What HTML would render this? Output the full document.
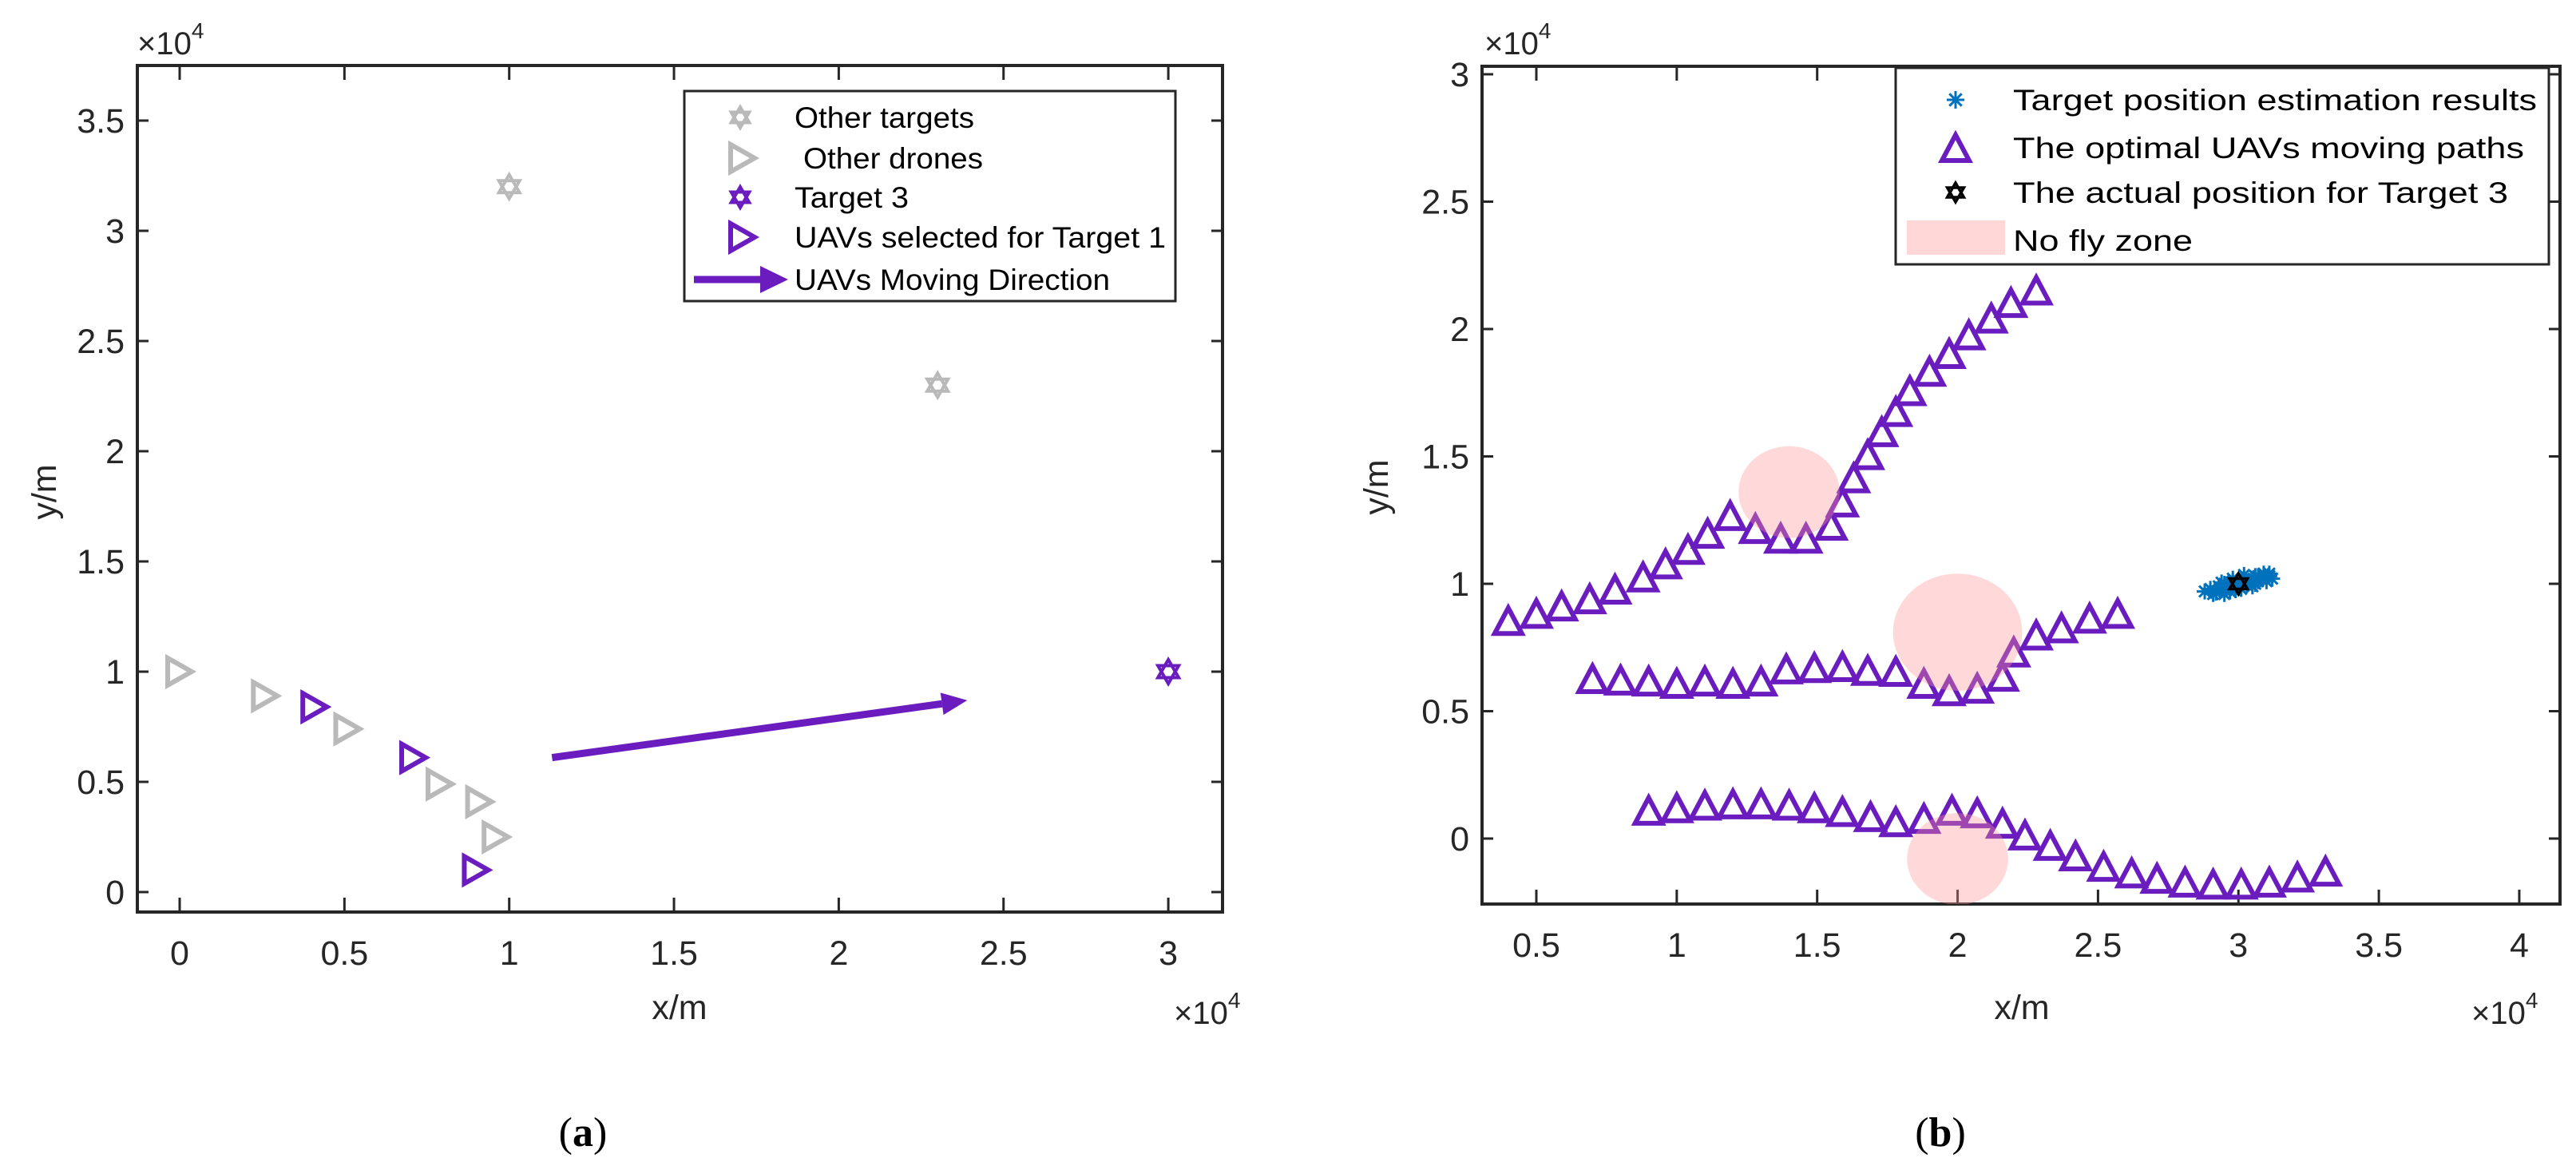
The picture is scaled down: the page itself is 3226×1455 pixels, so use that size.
<!DOCTYPE html>
<html><head><meta charset="utf-8"><style>
html,body{margin:0;padding:0;background:#fff;}
svg{display:block;font-family:"Liberation Sans",Arial,sans-serif;}
</style></head><body>
<svg id="fig" width="3226" height="1455" viewBox="0 0 3226 1455" xmlns="http://www.w3.org/2000/svg">
</svg>
<script>
// ---------- Chart (a) data ----------
const aXTicks = [0, 0.5, 1, 1.5, 2, 2.5, 3];
const aXTickLabels = ["0", "0.5", "1", "1.5", "2", "2.5", "3"];
const aYTicks = [0, 0.5, 1, 1.5, 2, 2.5, 3, 3.5];
const aYTickLabels = ["0", "0.5", "1", "1.5", "2", "2.5", "3", "3.5"];
const otherTargetsX = [1.0, 2.3];
const otherTargetsY = [3.2, 2.3];
const target3X = [3.0];
const target3Y = [1.0];
const otherDronesX = [0, 0.26, 0.51, 0.79, 0.91, 0.96];
const otherDronesY = [1.0, 0.89, 0.74, 0.49, 0.41, 0.25];
const selectedX = [0.41, 0.71, 0.90];
const selectedY = [0.84, 0.61, 0.10];
const arrowX = [1.13, 2.39];
const arrowY = [0.61, 0.87];

// ---------- Chart (b) data ----------
const bXTicks = [0.5, 1, 1.5, 2, 2.5, 3, 3.5, 4];
const bXTickLabels = ["0.5", "1", "1.5", "2", "2.5", "3", "3.5", "4"];
const bYTicks = [0, 0.5, 1, 1.5, 2, 2.5, 3];
const bYTickLabels = ["0", "0.5", "1", "1.5", "2", "2.5", "3"];
const path1X = [0.40,0.50,0.59,0.69,0.78,0.88,0.96,1.04,1.11,1.19,1.28,1.37,1.46,1.55,1.59,1.63,1.68,1.73,1.78,1.83,1.90,1.97,2.04,2.12,2.19,2.28];
const path1Y = [0.855,0.883,0.912,0.94,0.978,1.026,1.077,1.134,1.197,1.267,1.216,1.178,1.178,1.229,1.32,1.415,1.506,1.596,1.675,1.757,1.833,1.903,1.976,2.042,2.103,2.152];
const path2X = [0.70,0.80,0.90,1.00,1.10,1.20,1.30,1.39,1.49,1.59,1.68,1.78,1.88,1.97,2.07,2.16,2.20,2.28,2.37,2.47,2.57];
const path2Y = [0.627,0.621,0.617,0.608,0.617,0.608,0.617,0.665,0.67,0.674,0.659,0.655,0.608,0.579,0.589,0.636,0.731,0.798,0.826,0.864,0.883];
const path3X = [0.90,1.00,1.10,1.20,1.30,1.40,1.49,1.59,1.69,1.78,1.88,1.98,2.07,2.16,2.24,2.33,2.42,2.52,2.62,2.71,2.81,2.91,3.01,3.11,3.21,3.31];
const path3Y = [0.11,0.12,0.13,0.135,0.135,0.13,0.12,0.105,0.085,0.065,0.078,0.11,0.10,0.059,0.013,-0.028,-0.069,-0.11,-0.136,-0.157,-0.172,-0.18,-0.18,-0.172,-0.152,-0.129];
const zoneX = [1.40, 2.00, 2.00];
const zoneY = [1.36, 0.81, -0.08];
const zoneR = [0.18, 0.23, 0.18];
const estX = [2.88,2.90,2.92,2.93,2.94,2.95,2.96,2.97,2.98,2.99,3.00,3.01,3.02,3.03,3.04,3.05,3.06,3.07,3.08,3.09,3.10,3.11,3.12,2.91,2.95,2.99,3.03,3.07,3.11,2.94,2.98,3.02,3.06];
const estY = [0.97,0.98,0.965,0.99,0.975,1.0,0.985,0.97,1.01,0.99,1.0,0.98,1.02,1.0,1.01,0.99,1.03,1.01,1.02,1.04,1.01,1.03,1.02,0.96,0.96,0.975,0.995,1.03,1.04,1.005,1.02,1.035,1.0];
const actualX = [3.0];
const actualY = [1.0];

const NS = "http://www.w3.org/2000/svg";
const svg = document.getElementById("fig");
const PURPLE = "#6a1cbf", GRAY = "#b9b9b9", BLUE = "#0072bd";
function mk(tag, attrs, parent) {
  const e = document.createElementNS(NS, tag);
  for (const k in attrs) e.setAttribute(k, attrs[k]);
  (parent || svg).appendChild(e);
  return e;
}
function txt(s, attrs, parent) { const t = mk("text", attrs, parent); t.textContent = s; return t; }

// axis functions
const ax = { l:172, r:1531, t:82, b:1142, x0:225, xs:412.7, y0:1117, ys:276 };
const bx = { l:1856, r:3206, t:83, b:1132, x0:1924 - 0.5*351.7, xs:351.7, y0:1050, ys:319 };
function X(c, v) { return c.x0 + v * c.xs; }
function Y(c, v) { return c.y0 - v * c.ys; }

function hexagram(cx, cy, r, color, sw, g) {
  const p1 = [], p2 = [];
  for (let i = 0; i < 3; i++) {
    const a1 = -Math.PI/2 + i*2*Math.PI/3, a2 = Math.PI/2 + i*2*Math.PI/3;
    p1.push((cx + r*Math.cos(a1)).toFixed(1) + "," + (cy + r*Math.sin(a1)).toFixed(1));
    p2.push((cx + r*Math.cos(a2)).toFixed(1) + "," + (cy + r*Math.sin(a2)).toFixed(1));
  }
  const a = mk("polygon", {points:p1.join(" "), fill:"none", stroke:color, "stroke-width":sw, "stroke-linejoin":"miter"}, g);
  const b = mk("polygon", {points:p2.join(" "), fill:"none", stroke:color, "stroke-width":sw, "stroke-linejoin":"miter"}, g);
  return [a, b];
}
function triRight(cx, cy, color, g) {
  const w = 30, h = 34;
  return mk("polygon", {points:`${cx-w/2},${cy-h/2} ${cx+w/2},${cy} ${cx-w/2},${cy+h/2}`, fill:"none", stroke:color, "stroke-width":6}, g);
}
function triUp(cx, cy, color, g) {
  const w = 34, h = 32;
  return mk("polygon", {points:`${cx},${cy-h/2} ${cx+w/2},${cy+h/2} ${cx-w/2},${cy+h/2}`, fill:"none", stroke:color, "stroke-width":6}, g);
}
function asterisk(cx, cy, s, color, g) {
  const d = `M${cx-s},${cy}H${cx+s}M${cx},${cy-s}V${cy+s}M${cx-s*0.7},${cy-s*0.7}L${cx+s*0.7},${cy+s*0.7}M${cx-s*0.7},${cy+s*0.7}L${cx+s*0.7},${cy-s*0.7}`;
  return mk("path", {d, stroke:color, "stroke-width":3, fill:"none"}, g);
}
function frame(c, xt, xl, yt, yl, name) {
  const g = mk("g", {});
  
  
  mk("rect", {x:c.l, y:c.t, width:c.r-c.l, height:c.b-c.t, fill:"none", stroke:"#262626", "stroke-width":4}, g);
  xt.forEach((v, i) => {
    const x = X(c, v);
    mk("line", {x1:x, y1:c.b, x2:x, y2:c.b-18, stroke:"#262626", "stroke-width":3}, g);
    mk("line", {x1:x, y1:c.t, x2:x, y2:c.t+18, stroke:"#262626", "stroke-width":3}, g);
    const t = txt(xl[i], {x:x, y:c.b+66, "font-size":43, "text-anchor":"middle", fill:"#262626"}, g);
    
    
  });
  yt.forEach((v, i) => {
    const y = Y(c, v);
    mk("line", {x1:c.l, y1:y, x2:c.l+14, y2:y, stroke:"#262626", "stroke-width":3}, g);
    mk("line", {x1:c.r, y1:y, x2:c.r-14, y2:y, stroke:"#262626", "stroke-width":3}, g);
    const t = txt(yl[i], {x:c.l-16, y:y+15, "font-size":43, "text-anchor":"end", fill:"#262626"}, g);
    
    
  });
  return g;
}
function exponent(x, y, name) {
  const t = mk("text", {x:x, y:y, "font-size":40, fill:"#262626"});
  
  
  const a = mk("tspan", {}, t); a.textContent = "×10";
  const b = mk("tspan", {dy:-20, "font-size":28}, t); b.textContent = "4";
}

// ===== Chart (a) =====
frame(ax, aXTicks, aXTickLabels, aYTicks, aYTickLabels, "chart-a");
exponent(172, 68, "chart-a-y-exponent");
exponent(1470, 1282, "chart-a-x-exponent");
let t = txt("x/m", {x:851, y:1276, "font-size":43, "text-anchor":"middle", fill:"#262626"});
 
t = txt("y/m", {x:0, y:0, "font-size":43, "text-anchor":"middle", fill:"#262626", transform:"translate(70,616) rotate(-90)"});
 

const ga = mk("g", {});


otherTargetsX.forEach((v, i) => {
  const g = mk("g", {}, ga);
  
  
  hexagram(X(ax, v), Y(ax, otherTargetsY[i]), 15, GRAY, 4, g);
});
target3X.forEach((v, i) => {
  const g = mk("g", {}, ga);
  
  
  hexagram(X(ax, v), Y(ax, target3Y[i]), 15, PURPLE, 4, g);
});
otherDronesX.forEach((v, i) => {
  const p = triRight(X(ax, v), Y(ax, otherDronesY[i]), GRAY, ga);
  
  
});
selectedX.forEach((v, i) => {
  const p = triRight(X(ax, v), Y(ax, selectedY[i]), PURPLE, ga);
  
  
});
(function () {
  const x1 = X(ax, arrowX[0]), y1 = Y(ax, arrowY[0]), x2 = X(ax, arrowX[1]), y2 = Y(ax, arrowY[1]);
  const ang = Math.atan2(y2 - y1, x2 - x1), hl = 32, hw = 14;
  const bxp = x2 - hl*Math.cos(ang), byp = y2 - hl*Math.sin(ang);
  const g = mk("g", {}, ga);
  
  
  mk("line", {x1, y1, x2:bxp, y2:byp, stroke:PURPLE, "stroke-width":9}, g);
  mk("polygon", {points:`${x2},${y2} ${bxp - hw*Math.sin(ang)},${byp + hw*Math.cos(ang)} ${bxp + hw*Math.sin(ang)},${byp - hw*Math.cos(ang)}`, fill:PURPLE}, g);
})();

// legend (a)
const la = mk("g", {});


mk("rect", {x:857, y:114, width:615, height:263, fill:"#fff", stroke:"#262626", "stroke-width":3}, la);
const laLabels = ["Other targets", " Other drones", "Target 3", "UAVs selected for Target 1", "UAVs Moving Direction"];
const laY = [147, 198, 247, 297, 350];
const laW = [225, 225, 143, 465, 395];
laLabels.forEach((s, i) => {
  const e = txt(s, {x:i === 1 ? 1006 : 995, y:laY[i]+13, "font-size":37, fill:"#000", textLength:laW[i], lengthAdjust:"spacingAndGlyphs", "xml:space":"preserve"}, la);
  
  
});
hexagram(927, 147, 13, GRAY, 4, la);
triRight(930, 198, GRAY, la);
hexagram(927, 247, 13, PURPLE, 4, la);
triRight(930, 297, PURPLE, la);
mk("line", {x1:869, y1:350, x2:955, y2:350, stroke:PURPLE, "stroke-width":9}, la);
mk("polygon", {points:"987,350 952,333 952,367", fill:PURPLE}, la);

// ===== Chart (b) =====
frame(bx, bXTicks, bXTickLabels, bYTicks, bYTickLabels, "chart-b");
exponent(1859, 68, "chart-b-y-exponent");
exponent(3095, 1282, "chart-b-x-exponent");
t = txt("x/m", {x:2532, y:1276, "font-size":43, "text-anchor":"middle", fill:"#262626"});
 
t = txt("y/m", {x:0, y:0, "font-size":43, "text-anchor":"middle", fill:"#262626", transform:"translate(1738,610) rotate(-90)"});
 

mk("clipPath", {id:"clipb"}, mk("defs", {}));
const cp = svg.querySelector("#clipb");
mk("rect", {x:bx.l, y:bx.t, width:bx.r-bx.l, height:bx.b-bx.t}, cp);
const gb = mk("g", {"clip-path":"url(#clipb)"});


[[path1X, path1Y, 'path-1'], [path2X, path2Y, 'path-2'], [path3X, path3Y, 'path-3']].forEach(([xs, ys, nm]) => {
  const g = mk("g", {}, gb);
  
  
  xs.forEach((v, i) => {
    const p = triUp(X(bx, v), Y(bx, ys[i]), PURPLE, g);
    
    
  });
});
zoneX.forEach((v, i) => {
  const e = mk("ellipse", {cx:X(bx, v), cy:Y(bx, zoneY[i]), rx:zoneR[i]*bx.xs, ry:zoneR[i]*bx.ys, fill:"rgba(255,150,150,0.36)"}, gb);
  
  
});
const ge = mk("g", {}, gb);


estX.forEach((v, i) => { asterisk(X(bx, v), Y(bx, estY[i]), 10, BLUE, ge); });
actualX.forEach((v, i) => {
  const g = mk("g", {}, gb);
  
  
  hexagram(X(bx, v), Y(bx, actualY[i]), 13, "#000", 3.5, g);
});

// legend (b)
const lb = mk("g", {});


mk("rect", {x:2374, y:85, width:818, height:246, fill:"#fff", stroke:"#262626", "stroke-width":3}, lb);
const lbLabels = ["Target position estimation results", "The optimal UAVs moving paths", "The actual position for Target 3", "No fly zone"];
const lbY = [125, 185, 241, 301];
const lbW = [656, 640, 620, 225];
lbLabels.forEach((s, i) => {
  const e = txt(s, {x:2521, y:lbY[i]+13, "font-size":37, fill:"#000", textLength:lbW[i], lengthAdjust:"spacingAndGlyphs"}, lb);
  
  
});
asterisk(2449, 125, 11, BLUE, lb);
triUp(2449, 185, PURPLE, lb);
hexagram(2449, 241, 12, "#000", 3.5, lb);
mk("rect", {x:2388, y:276, width:123, height:43, fill:"#ffd7d7"}, lb);

// captions
t = mk("text", {x:730, y:1435, "font-size":52, "text-anchor":"middle", "font-family":"Liberation Serif, serif", fill:"#000"});
 
t.innerHTML = '(<tspan font-weight="bold">a</tspan>)';
t = mk("text", {x:2430, y:1435, "font-size":52, "text-anchor":"middle", "font-family":"Liberation Serif, serif", fill:"#000"});
 
t.innerHTML = '(<tspan font-weight="bold">b</tspan>)';
</script>
</body></html>
